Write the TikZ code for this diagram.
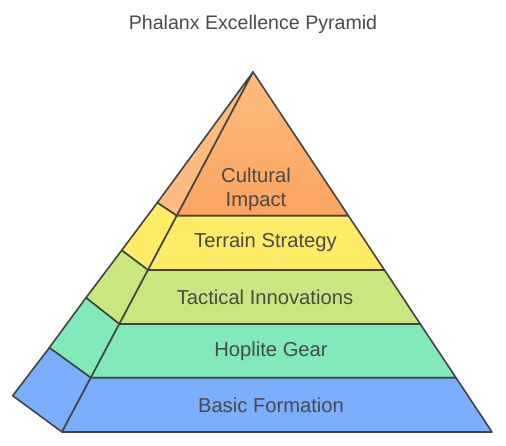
\documentclass[tikz,border=0pt]{standalone}
\usepackage{fontspec}
\setmainfont{Liberation Sans}
\usepackage{tikz}
\usetikzlibrary{positioning,calc}
\usepackage{xcolor}
\definecolor{txtgray}{HTML}{4A4A4A}
\definecolor{edgegray}{HTML}{434343}
\definecolor{orangetop}{HTML}{FDBC7F}
\definecolor{orangebot}{HTML}{FBA45F}
\definecolor{yellowband}{HTML}{FEEC67}
\definecolor{limeband}{HTML}{C8E87F}
\definecolor{mintband}{HTML}{82E9B8}
\definecolor{blueband}{HTML}{7BAEFD}

\begin{document}
\begin{tikzpicture}[x=1pt, y=-1pt,
    every node/.style={text=txtgray, font=\fontsize{20.2}{23.7}\selectfont},
    face/.style={draw=edgegray, line width=1.6pt, line join=round}]
                    \useasboundingbox (0,0) rectangle (506,445);
                    \node[font=\fontsize{19.6}{23}\selectfont] (title) at (253,24) {Phalanx Excellence Pyramid};
                    \coordinate (apex) at (253,72);
                    \coordinate (l1) at (176.8,215.7); \coordinate (r1) at (348.4,215.7); \coordinate (o1) at (157.3,202.7);
                    \coordinate (l2) at (148.0,270.0); \coordinate (r2) at (384.5,270.0); \coordinate (o2) at (121.7,250.3);
                    \coordinate (l3) at (119.3,324.0); \coordinate (r3) at (420.3,324.0); \coordinate (o3) at (86.0,297.7);
                    \coordinate (l4) at (90.8,377.7); \coordinate (r4) at (456.0,377.7); \coordinate (o4) at (49.3,347.7);
                    \coordinate (l5) at (62.0,432.0); \coordinate (r5) at (492.0,432.0); \coordinate (o5) at (12.7,395.7);
                    \draw[face, fill=orangetop] (apex) -- (l1) -- (o1) -- cycle;
                    \draw[face, top color=orangetop, bottom color=orangebot] (apex) -- (r1) -- (l1) -- cycle;
                    \draw[face, fill=yellowband] (o1) -- (l1) -- (l2) -- (o2) -- cycle;
                    \draw[face, fill=yellowband] (l1) -- (r1) -- (r2) -- (l2) -- cycle;
                    \draw[face, fill=limeband] (o2) -- (l2) -- (l3) -- (o3) -- cycle;
                    \draw[face, fill=limeband] (l2) -- (r2) -- (r3) -- (l3) -- cycle;
                    \draw[face, fill=mintband] (o3) -- (l3) -- (l4) -- (o4) -- cycle;
                    \draw[face, fill=mintband] (l3) -- (r3) -- (r4) -- (l4) -- cycle;
                    \draw[face, fill=blueband] (o4) -- (l4) -- (l5) -- (o5) -- cycle;
                    \draw[face, fill=blueband] (l4) -- (r4) -- (r5) -- (l5) -- cycle;
                    \node[align=center] (cultural) at (256,189) {Cultural\\Impact};
                    \node (terrain) at (265.5,242) {Terrain Strategy};
                    \node (tactical) at (265,297) {Tactical Innovations};
                    \node (hoplite) at (271,351) {Hoplite Gear};
                    \node (basic) at (271,405) {Basic Formation};
                \end{tikzpicture}
\end{document}
